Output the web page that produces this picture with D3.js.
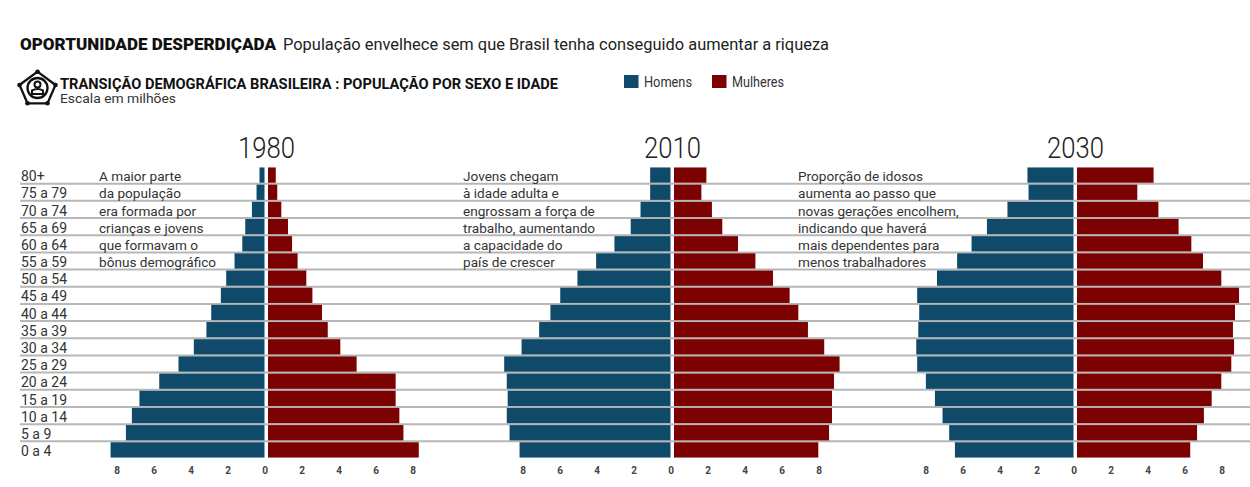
<!DOCTYPE html>
<html lang="pt">
<head>
<meta charset="UTF-8">
<title>Oportunidade desperdiçada</title>
<script src="https://d3js.org/d3.v7.min.js"></script>
<style>
  body { margin: 0; background: #fff; }
  svg { display: block; }
  text { font-family: Roboto, "Noto Sans", sans-serif; fill: #2b2b2b; }
</style>
</head>
<body>
<div id="chart"></div>
<script>
// faixas etárias, de cima para baixo
const ages = ["80+", "75 a 79", "70 a 74", "65 a 69", "60 a 64", "55 a 59", "50 a 54", "45 a 49",
  "40 a 44", "35 a 39", "30 a 34", "25 a 29", "20 a 24", "15 a 19", "10 a 14", "5 a 9", "0 a 4"];

// população em milhões
const homens1980   = [0.27, 0.43, 0.68, 1.04, 1.2, 1.62, 2.07, 2.36, 2.88, 3.14, 3.82, 4.65, 5.69, 6.76, 7.17, 7.49, 8.32];
const mulheres1980 = [0.42, 0.5, 0.72, 1.08, 1.3, 1.6, 2.07, 2.4, 2.92, 3.23, 3.91, 4.79, 6.9, 6.9, 7.1, 7.32, 8.15];
const homens2010   = [1.1, 1.1, 1.62, 2.15, 3.03, 4.02, 5.03, 5.96, 6.49, 7.1, 8.05, 8.99, 8.85, 8.8, 8.85, 8.7, 8.16];
const mulheres2010 = [1.75, 1.48, 2.05, 2.61, 3.46, 4.4, 5.35, 6.25, 6.72, 7.24, 8.12, 8.95, 8.65, 8.54, 8.54, 8.38, 7.8];
const homens2030   = [2.49, 2.43, 3.57, 4.68, 5.51, 6.29, 7.38, 8.45, 8.34, 8.39, 8.5, 8.45, 7.98, 7.49, 7.08, 6.72, 6.41];
const mulheres2030 = [4.14, 3.26, 4.4, 5.49, 6.18, 6.81, 7.8, 8.76, 8.54, 8.43, 8.49, 8.34, 7.8, 7.28, 6.86, 6.49, 6.12];

const years = ["1980", "2010", "2030"];
const tickValues = [-8, -6, -4, -2, 0, 2, 4, 6, 8];

const notes = [
  ["A maior parte", "da população", "era formada por", "crianças e jovens", "que formavam o", "bônus demográfico"],
  ["Jovens chegam", "à idade adulta e", "engrossam a força de", "trabalho, aumentando", "a capacidade do", "país de crescer"],
  ["Proporção de idosos", "aumenta ao passo que", "novas gerações encolhem,", "indicando que haverá", "mais dependentes para", "menos trabalhadores"]
];

const pyramids = [
  { year: years[0], homens: homens1980, mulheres: mulheres1980, cx: 264.5, noteX: 99 },
  { year: years[1], homens: homens2010, mulheres: mulheres2010, cx: 670.5, noteX: 463 },
  { year: years[2], homens: homens2030, mulheres: mulheres2030, cx: 1073.5, noteX: 798 }
];

const W = 1250, H = 487;
const blue = "#0f4a6a", red = "#7c0202", grid = "#b7b7b7";
const gap = 3.5;

const svg = d3.select("#chart").append("svg")
  .attr("width", W).attr("height", H);

// cabeçalho (textLength para imitar a fonte condensada do original)
function fitText(x, yy, size, weight, color, len, str) {
  return svg.append("text").attr("x", x).attr("y", yy)
    .attr("textLength", len).attr("lengthAdjust", "spacingAndGlyphs")
    .style("font-size", size + "px").style("font-weight", weight).style("fill", color)
    .text(str);
}
fitText(20, 49.5, 16.5, "900", "#111", 256, "OPORTUNIDADE DESPERDIÇADA");
fitText(283, 49.5, 16.5, "normal", "#222", 546, "População envelhece sem que Brasil tenha conseguido aumentar a riqueza");
fitText(60, 88.5, 14, "bold", "#111", 498, "TRANSIÇÃO DEMOGRÁFICA BRASILEIRA : POPULAÇÃO POR SEXO E IDADE");
fitText(60, 103, 12.5, "normal", "#333", 116, "Escala em milhões");

// ícone
const icon = svg.append("g").attr("transform", "translate(37.5,88)")
  .style("fill", "none").style("stroke", "#111").style("stroke-width", 2.3);
const pts = [[0, -16.3], [18, -3], [10, 15.3], [-10, 15.3], [-18, -3]];
icon.append("path").attr("d", d3.line()(pts) + "Z");
icon.selectAll("circle.node").data(pts).enter().append("circle")
  .attr("class", "node").attr("cx", d => d[0]).attr("cy", d => d[1]).attr("r", 2.3)
  .style("fill", "#111").style("stroke", "none");
icon.append("circle").attr("cx", 0).attr("cy", 0).attr("r", 10).style("fill", "#fff");
icon.append("circle").attr("cx", 0).attr("cy", -3.5).attr("r", 3).style("stroke-width", 2);
icon.append("path").attr("d", "M-5.5,6 L-5.5,2.5 Q0,-0.5 5.5,2.5 L5.5,6 Z").style("stroke-width", 2);

// legenda
const legend = [{ label: "Homens", color: blue, x: 624, w: 48 }, { label: "Mulheres", color: red, x: 712, w: 52 }];
const lg = svg.selectAll("g.legend").data(legend).enter().append("g")
  .attr("class", "legend").attr("transform", d => `translate(${d.x},75)`);
lg.append("rect").attr("width", 14.5).attr("height", 13).attr("fill", d => d.color);
lg.append("text").attr("x", 20).attr("y", 12)
  .attr("textLength", d => d.w).attr("lengthAdjust", "spacingAndGlyphs")
  .style("font-size", "14.5px").style("fill", "#333").text(d => d.label);

// linhas das faixas
const y = d3.scaleBand().domain(ages).range([166.5, 458.5]).paddingInner(0.11).paddingOuter(0.055);
const lineY = ages.slice(0, -1).map(a => y(a) + y.bandwidth() + y.step() * y.paddingInner() / 2);

svg.append("g").selectAll("line").data(lineY).enter().append("line")
  .attr("x1", 20).attr("x2", W)
  .attr("y1", d => d).attr("y2", d => d)
  .attr("stroke", grid).attr("stroke-width", 2);

// rótulos das faixas
svg.append("g").selectAll("text").data(ages).enter().append("text")
  .attr("x", 21).attr("y", d => y(d) + y.bandwidth() - 1.5)
  .style("font-size", "14px").style("fill", "#333")
  .text(d => d);

// pirâmides
const len = d3.scaleLinear().domain([0, 8]).range([0, 148]);

pyramids.forEach((p, i) => {
  const g = svg.append("g");

  g.append("text").attr("x", p.cx + 2 - 28.5).attr("y", 158)
    .attr("textLength", 57).attr("lengthAdjust", "spacingAndGlyphs")
    .style("font-size", "29px").style("font-weight", "300").style("fill", "#222")
    .text(p.year);

  g.selectAll("rect.h").data(p.homens).enter().append("rect")
    .attr("class", "h")
    .attr("x", d => p.cx - len(d)).attr("y", (d, j) => y(ages[j]))
    .attr("width", d => len(d)).attr("height", y.bandwidth())
    .attr("fill", blue);

  g.selectAll("rect.m").data(p.mulheres).enter().append("rect")
    .attr("class", "m")
    .attr("x", p.cx + gap).attr("y", (d, j) => y(ages[j]))
    .attr("width", d => len(d)).attr("height", y.bandwidth())
    .attr("fill", red);

  const ax = d3.scaleLinear().domain([-8, 8]).range([p.cx - len(8), p.cx + len(8)]);
  const axis = g.append("g").attr("transform", "translate(0,464)")
    .call(d3.axisBottom(ax).tickValues(tickValues).tickSize(0).tickFormat(d => Math.abs(d)));
  axis.select(".domain").remove();
  axis.selectAll("text")
    .style("font-size", "10px").style("font-weight", "bold").style("fill", "#444")
    .style("font-family", "Roboto, sans-serif");

  g.selectAll("text.note").data(notes[i]).enter().append("text")
    .attr("class", "note")
    .attr("x", p.noteX).attr("y", (d, j) => y(ages[j]) + y.bandwidth() - 1.5)
    .style("font-size", "13.6px").style("fill", "#333")
    .text(d => d);
});
</script>
</body>
</html>
